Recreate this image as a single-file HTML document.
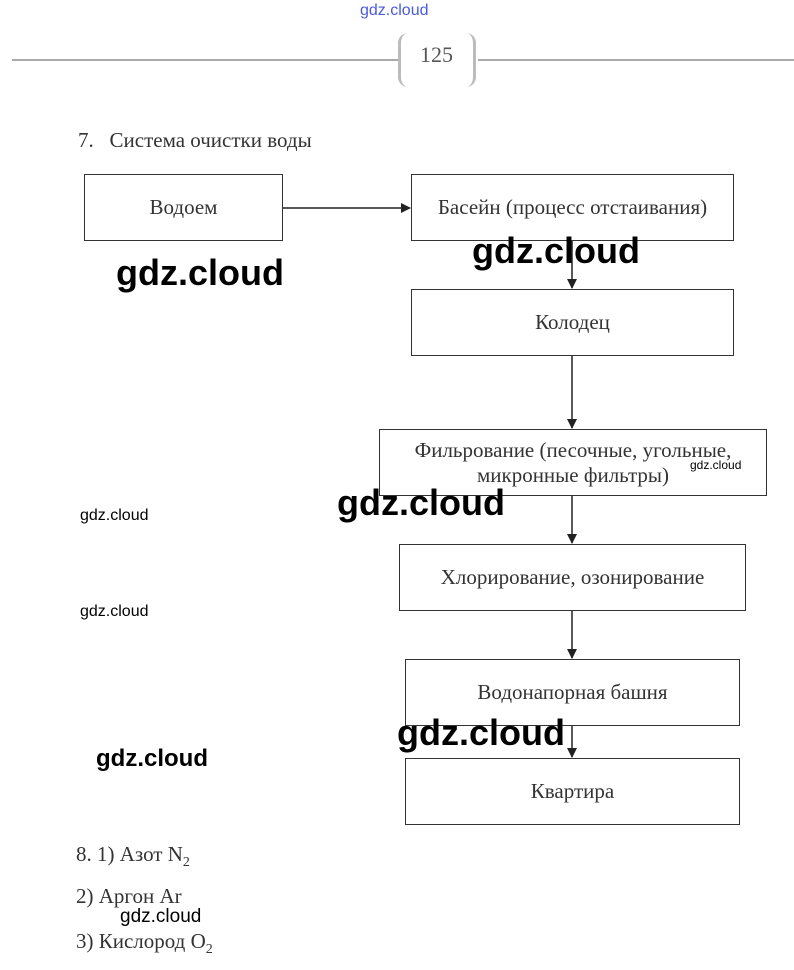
<!DOCTYPE html>
<html><head><meta charset="utf-8"><style>
body{margin:0;width:794px;height:970px;background:#fff;position:relative;overflow:hidden;font-family:"Liberation Serif",serif;color:#333}
.a{position:absolute}
.box{position:absolute;border:1.5px solid #333;box-sizing:border-box;display:flex;align-items:center;justify-content:center;text-align:center;font-size:21px;line-height:25px}
.wm{position:absolute;font-family:"Liberation Sans",sans-serif;font-weight:bold;color:#000;white-space:nowrap}
.t{position:absolute;font-size:21px;white-space:nowrap}
</style></head><body>
<div class="a" style="left:360px;top:2px;font-family:'Liberation Sans',sans-serif;font-size:16px;color:#4a5adb">gdz.cloud</div>
<div class="a" style="left:12px;top:59px;width:386px;height:2px;background:#aaa"></div>
<div class="a" style="left:478px;top:59px;width:316px;height:2px;background:#aaa"></div>
<div class="a" style="left:398px;top:33px;width:78px;height:54px;border:3px solid #bbb;border-top:none;border-bottom:none;border-radius:10px;box-sizing:border-box"></div>
<div class="a" style="left:420px;top:42px;font-size:22px;color:#555">125</div>
<div class="t" style="left:78px;top:128px">7.&nbsp;&nbsp;&nbsp;Система очистки воды</div>
<div class="box" style="left:84px;top:174px;width:199px;height:67px">Водоем</div>
<div class="box" style="left:411px;top:174px;width:323px;height:67px">Басейн (процесс отстаивания)</div>
<div class="box" style="left:411px;top:289px;width:323px;height:67px">Колодец</div>
<div class="box" style="left:379px;top:429px;width:388px;height:67px">Фильрование (песочные, угольные,<br>микронные фильтры)</div>
<div class="box" style="left:399px;top:544px;width:347px;height:67px">Хлорирование, озонирование</div>
<div class="box" style="left:405px;top:659px;width:335px;height:67px">Водонапорная башня</div>
<div class="box" style="left:405px;top:758px;width:335px;height:67px">Квартира</div>
<svg class="a" style="left:0;top:0" width="794" height="970">
<defs><marker id="m" markerWidth="10" markerHeight="10" refX="9" refY="5" orient="auto" markerUnits="userSpaceOnUse"><path d="M0,0 L10,5 L0,10z" fill="#222"/></marker></defs>
<g stroke="#222" stroke-width="1.5" marker-end="url(#m)">
<line x1="283" y1="208" x2="410" y2="208"/>
<line x1="572" y1="241" x2="572" y2="288"/>
<line x1="572" y1="356" x2="572" y2="428"/>
<line x1="572" y1="496" x2="572" y2="543"/>
<line x1="572" y1="611" x2="572" y2="658"/>
<line x1="572" y1="726" x2="572" y2="757"/>
</g></svg>
<div class="t" style="left:76px;top:842px">8. 1) Азот N<sub style="font-size:14px">2</sub></div>
<div class="t" style="left:76px;top:884px">2) Аргон Ar</div>
<div class="t" style="left:76px;top:929px">3) Кислород O<sub style="font-size:14px">2</sub></div>
<div class="wm" style="left:116px;top:252px;font-size:36px">gdz.cloud</div>
<div class="wm" style="left:472px;top:230px;font-size:36px">gdz.cloud</div>
<div class="wm" style="left:337px;top:482px;font-size:36px">gdz.cloud</div>
<div class="wm" style="left:397px;top:712px;font-size:36px">gdz.cloud</div>
<div class="wm" style="left:96px;top:745px;font-size:24px">gdz.cloud</div>
<div class="wm" style="left:80px;top:507px;font-size:16px;font-weight:normal">gdz.cloud</div>
<div class="wm" style="left:80px;top:603px;font-size:16px;font-weight:normal">gdz.cloud</div>
<div class="wm" style="left:690px;top:458px;font-size:12px;font-weight:normal">gdz.cloud</div>
<div class="wm" style="left:120px;top:906px;font-size:19px;font-weight:normal">gdz.cloud</div>
</body></html>
